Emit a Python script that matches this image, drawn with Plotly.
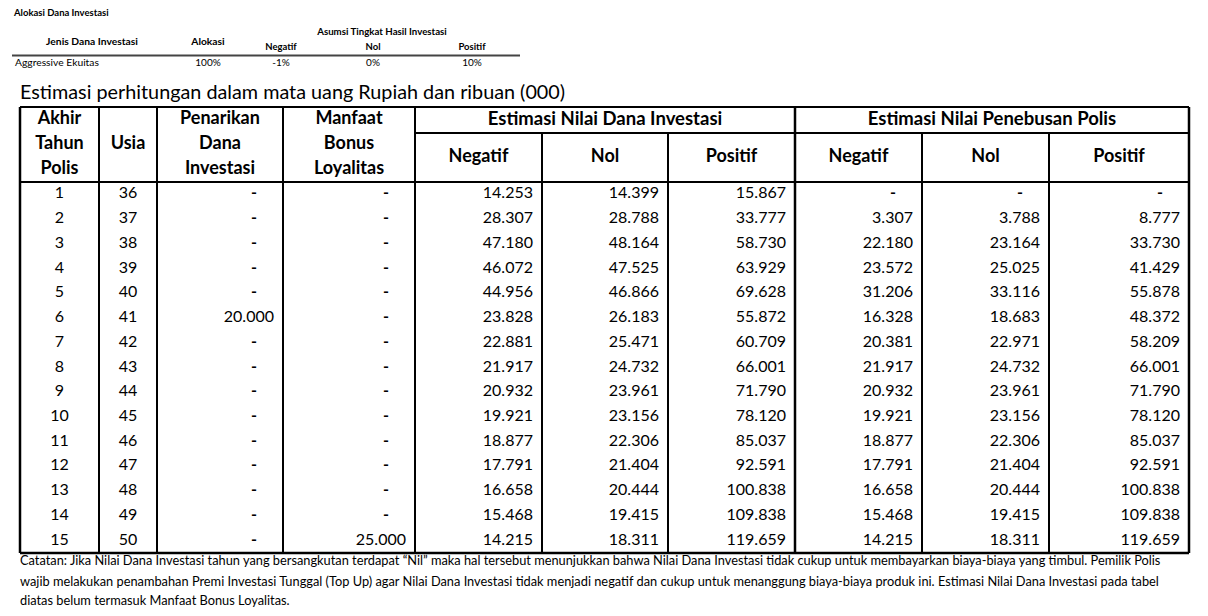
import plotly.graph_objects as go

# ---------------- data ----------------
tahun = [1, 2, 3, 4, 5, 6, 7, 8, 9, 10, 11, 12, 13, 14, 15]
usia = [36, 37, 38, 39, 40, 41, 42, 43, 44, 45, 46, 47, 48, 49, 50]
penarikan = ["-", "-", "-", "-", "-", "20.000", "-", "-", "-", "-", "-", "-", "-", "-", "-"]
manfaat = ["-", "-", "-", "-", "-", "-", "-", "-", "-", "-", "-", "-", "-", "-", "25.000"]
dana_negatif = ["14.253", "28.307", "47.180", "46.072", "44.956", "23.828", "22.881", "21.917",
                "20.932", "19.921", "18.877", "17.791", "16.658", "15.468", "14.215"]
dana_nol = ["14.399", "28.788", "48.164", "47.525", "46.866", "26.183", "25.471", "24.732",
            "23.961", "23.156", "22.306", "21.404", "20.444", "19.415", "18.311"]
dana_positif = ["15.867", "33.777", "58.730", "63.929", "69.628", "55.872", "60.709", "66.001",
                "71.790", "78.120", "85.037", "92.591", "100.838", "109.838", "119.659"]
tebus_negatif = ["-", "3.307", "22.180", "23.572", "31.206", "16.328", "20.381", "21.917",
                 "20.932", "19.921", "18.877", "17.791", "16.658", "15.468", "14.215"]
tebus_nol = ["-", "3.788", "23.164", "25.025", "33.116", "18.683", "22.971", "24.732",
             "23.961", "23.156", "22.306", "21.404", "20.444", "19.415", "18.311"]
tebus_positif = ["-", "8.777", "33.730", "41.429", "55.878", "48.372", "58.209", "66.001",
                 "71.790", "78.120", "85.037", "92.591", "100.838", "109.838", "119.659"]

alokasi_title = "Alokasi Dana Investasi"
alokasi_headers = ["Jenis Dana Investasi", "Alokasi", "Negatif", "Nol", "Positif"]
alokasi_group = "Asumsi Tingkat Hasil Investasi"
alokasi_row = ["Aggressive Ekuitas", "100%", "-1%", "0%", "10%"]

caption = "Estimasi perhitungan dalam mata uang Rupiah dan ribuan (000)"
head_left = [["Akhir", "Tahun", "Polis"], ["", "Usia", ""], ["Penarikan", "Dana", "Investasi"],
             ["Manfaat", "Bonus", "Loyalitas"]]
group_titles = ["Estimasi Nilai Dana Investasi", "Estimasi Nilai Penebusan Polis"]
sub_titles = ["Negatif", "Nol", "Positif", "Negatif", "Nol", "Positif"]
note_lines = [
    "Catatan: Jika Nilai Dana Investasi tahun yang bersangkutan terdapat \u201cNil\u201d maka hal tersebut menunjukkan bahwa Nilai Dana Investasi tidak cukup untuk membayarkan biaya-biaya yang timbul. Pemilik Polis",
    "wajib melakukan penambahan Premi Investasi Tunggal (Top Up) agar Nilai Dana Investasi tidak menjadi negatif dan cukup untuk menanggung biaya-biaya produk ini. Estimasi Nilai Dana Investasi pada tabel",
    "diatas belum termasuk Manfaat Bonus Loyalitas.",
]

# ---------------- layout geometry ----------------
W, H = 1208, 616
FONT = "Lato"
col_edges = [20, 99, 157, 283, 415, 542, 668, 795, 922, 1049, 1189]
top_y, sub_y, head_bot, tbl_bot = 107, 133, 182, 553
n = len(tahun)
row_h = (tbl_bot - head_bot) / n
row_c = [head_bot + (i + 0.5) * row_h for i in range(n)]

fig = go.Figure()

def text_trace(xs, ys, texts, pos="middle center", size=16, color="#000", bold=False):
    fig.add_trace(go.Scatter(
        x=xs, y=ys, text=[f"<b>{t}</b>" if bold and t else t for t in texts],
        mode="text", textposition=pos, hoverinfo="skip", showlegend=False,
        textfont=dict(family=FONT, size=size, color=color)))

# centered columns
text_trace([(col_edges[0] + col_edges[1]) / 2] * n, row_c, [str(t) for t in tahun])
text_trace([(col_edges[1] + col_edges[2]) / 2] * n, row_c, [str(u) for u in usia])

# right-aligned numeric columns
num_cols = [penarikan, manfaat, dana_negatif, dana_nol, dana_positif,
            tebus_negatif, tebus_nol, tebus_positif]
for k, col in enumerate(num_cols):
    right = col_edges[k + 3]
    xs_num, ys_num, tx_num = [], [], []
    xs_d, ys_d, tx_d = [], [], []
    for i, v in enumerate(col):
        if v == "-":
            xs_d.append(right - 29); ys_d.append(row_c[i]); tx_d.append(v)
        else:
            xs_num.append(right - 9); ys_num.append(row_c[i]); tx_num.append(v)
    if xs_num:
        text_trace(xs_num, ys_num, tx_num, pos="middle left")
    if xs_d:
        text_trace(xs_d, ys_d, tx_d, bold=True)

# header texts
head_line_y = [119, 144, 169]
for j, lines in enumerate(head_left):
    cx = (col_edges[j] + col_edges[j + 1]) / 2
    text_trace([cx] * 3, head_line_y, lines, size=18, bold=True)
text_trace([(col_edges[4] + col_edges[7]) / 2, (col_edges[7] + col_edges[10]) / 2],
           [120, 120], group_titles, size=18.5, bold=True)
text_trace([(col_edges[k] + col_edges[k + 1]) / 2 for k in range(4, 10)],
           [157] * 6, sub_titles, size=18, bold=True)

# caption above table
text_trace([20], [94], [caption], pos="middle right", size=19.8)

# top small allocation table
text_trace([14], [14], [alokasi_title], pos="middle right", size=9.5, bold=True)
text_trace([382], [33], [alokasi_group], size=9.7, bold=True)
text_trace([92, 208], [42, 42], alokasi_headers[:2], size=10.3, bold=True)
text_trace([281, 373, 472], [48, 48, 48], alokasi_headers[2:], size=9.5, bold=True)
text_trace([15], [63], alokasi_row[:1], pos="middle right", size=10.3)
text_trace([208, 281, 373, 472], [63] * 4, alokasi_row[1:], size=10)

# footnote
text_trace([20] * 3, [562, 583, 602], note_lines, pos="middle right", size=12.8)

# ---------------- borders ----------------
shapes = []
def line(x0, y0, x1, y1, w=2):
    shapes.append(dict(type="line", x0=x0, y0=y0, x1=x1, y1=y1, xref="x", yref="y",
                       line=dict(color="#000", width=w)))

line(col_edges[0], top_y, col_edges[-1], top_y, 2.2)
line(col_edges[0], head_bot, col_edges[-1], head_bot, 2.2)
line(col_edges[0], tbl_bot, col_edges[-1], tbl_bot, 2.5)
line(col_edges[4], sub_y, col_edges[-1], sub_y, 2.2)
for k, x in enumerate(col_edges):
    if k in (5, 6, 8, 9):
        line(x, sub_y, x, tbl_bot, 2)
    else:
        line(x, top_y, x, tbl_bot, 2.5 if k in (0, 7, 10) else 2)
# small table rule
shapes.append(dict(type="line", x0=12, y0=55.5, x1=520, y1=55.5, xref="x", yref="y",
                   line=dict(color="#444", width=2)))

fig.update_layout(
    width=W, height=H, margin=dict(l=0, r=0, t=0, b=0),
    paper_bgcolor="white", plot_bgcolor="white", shapes=shapes,
    xaxis=dict(range=[0, W], visible=False, fixedrange=True),
    yaxis=dict(range=[H, 0], visible=False, fixedrange=True),
)

fig.write_html("out.html", config={"displayModeBar": False},
               post_script="document.body.style.margin='0';document.body.style.overflow='hidden';")
